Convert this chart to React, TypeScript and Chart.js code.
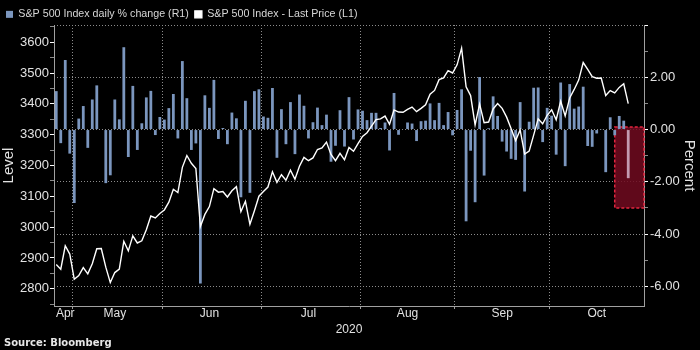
import React, { useEffect, useRef } from 'react';
import { Chart, registerables } from 'chart.js';

Chart.register(...registerables);

// ---------- data ----------
const YEAR = '2020';

const tradingDays = [
  '04-27', '04-28', '04-29', '04-30',
  '05-01', '05-04', '05-05', '05-06', '05-07', '05-08', '05-11', '05-12', '05-13', '05-14', '05-15',
  '05-18', '05-19', '05-20', '05-21', '05-22', '05-26', '05-27', '05-28', '05-29',
  '06-01', '06-02', '06-03', '06-04', '06-05', '06-08', '06-09', '06-10', '06-11', '06-12', '06-15',
  '06-16', '06-17', '06-18', '06-19', '06-22', '06-23', '06-24', '06-25', '06-26', '06-29', '06-30',
  '07-01', '07-02', '07-06', '07-07', '07-08', '07-09', '07-10', '07-13', '07-14', '07-15', '07-16',
  '07-17', '07-20', '07-21', '07-22', '07-23', '07-24', '07-27', '07-28', '07-29', '07-30', '07-31',
  '08-03', '08-04', '08-05', '08-06', '08-07', '08-10', '08-11', '08-12', '08-13', '08-14', '08-17',
  '08-18', '08-19', '08-20', '08-21', '08-24', '08-25', '08-26', '08-27', '08-28', '08-31',
  '09-01', '09-02', '09-03', '09-04', '09-08', '09-09', '09-10', '09-11', '09-14', '09-15', '09-16',
  '09-17', '09-18', '09-21', '09-22', '09-23', '09-24', '09-25', '09-28', '09-29', '09-30',
  '10-01', '10-02', '10-05', '10-06', '10-07', '10-08', '10-09', '10-12', '10-13', '10-14', '10-15',
  '10-16', '10-19', '10-20', '10-21', '10-22', '10-23', '10-26',
];

// empty days at the end of the time axis
const futureDays = ['10-27', '10-28', '10-29'];

// S&P 500 Index - Last Price (L1)
const lastPrice = [
  2878.48, 2863.39, 2939.51, 2912.43,
  2830.71, 2842.74, 2868.44, 2848.42, 2881.19, 2929.8, 2930.32, 2870.12, 2820.0, 2852.5, 2863.7,
  2953.91, 2922.94, 2971.61, 2948.51, 2955.45, 2991.77, 3036.13, 3029.73, 3044.31,
  3055.73, 3080.82, 3122.87, 3112.35, 3193.93, 3232.39, 3207.18, 3190.14, 3002.1, 3041.31, 3066.59,
  3124.74, 3113.49, 3115.34, 3097.74, 3117.86, 3131.29, 3050.33, 3083.76, 3009.05, 3053.24, 3100.29,
  3115.86, 3130.01, 3179.72, 3145.32, 3169.94, 3152.05, 3185.04, 3155.22, 3197.52, 3226.56, 3215.57,
  3224.73, 3251.84, 3257.3, 3276.02, 3235.66, 3215.63, 3239.41, 3218.44, 3258.44, 3246.22, 3271.12,
  3294.61, 3306.51, 3327.77, 3349.16, 3351.28, 3360.47, 3333.69, 3380.35, 3373.43, 3372.85, 3381.99,
  3389.78, 3374.85, 3385.51, 3397.16, 3431.28, 3443.62, 3478.73, 3484.55, 3508.01, 3500.31,
  3526.65, 3580.84, 3455.06, 3426.96, 3331.84, 3398.96, 3339.19, 3340.97, 3383.54, 3401.2, 3385.49,
  3357.01, 3319.47, 3281.06, 3315.57, 3236.92, 3246.59, 3298.46, 3351.6, 3335.47, 3363.0,
  3380.8, 3348.42, 3408.6, 3360.97, 3419.44, 3446.83, 3477.13, 3534.22, 3511.93, 3488.67, 3483.34,
  3483.81, 3426.92, 3443.12, 3435.56, 3453.49, 3465.39, 3400.97,
];

// S&P 500 Index daily % change (R1)
const dailyChange = [
  1.47, -0.52, 2.66, -0.92,
  -2.81, 0.42, 0.9, -0.7, 1.15, 1.69, 0.02, -2.05, -1.75, 1.15, 0.39,
  3.15, -1.05, 1.67, -0.78, 0.24, 1.23, 1.48, -0.21, 0.48,
  0.38, 0.82, 1.36, -0.34, 2.62, 1.2, -0.78, -0.53, -5.89, 1.31, 0.83,
  1.9, -0.36, 0.06, -0.56, 0.65, 0.43, -2.59, 1.1, -2.42, 1.47, 1.54,
  0.5, 0.45, 1.59, -1.08, 0.78, -0.56, 1.05, -0.94, 1.34, 0.91, -0.34,
  0.28, 0.84, 0.17, 0.57, -1.23, -0.62, 0.74, -0.65, 1.24, -0.38, 0.77,
  0.72, 0.36, 0.64, 0.64, 0.06, 0.27, -0.8, 1.4, -0.2, -0.02, 0.27,
  0.23, -0.44, 0.32, 0.34, 1.0, 0.36, 1.02, 0.17, 0.67, -0.22,
  0.75, 1.54, -3.51, -0.81, -2.78, 2.01, -1.76, 0.05, 1.27, 0.52, -0.46,
  -0.84, -1.12, -1.16, 1.05, -2.37, 0.3, 1.6, 1.61, -0.48, 0.83,
  0.53, -0.96, 1.8, -1.4, 1.74, 0.8, 0.88, 1.64, -0.63, -0.66, -0.15,
  0.01, -1.63, 0.47, -0.22, 0.52, 0.34, -1.86,
];

const monthNames = ['Jan', 'Feb', 'Mar', 'Apr', 'May', 'Jun', 'Jul', 'Aug', 'Sep', 'Oct', 'Nov', 'Dec'];

const seriesLabels = ['S&P 500 Index daily % change (R1)', 'S&P 500 Index - Last Price (L1)'];
const axisTitles = { left: 'Level', right: 'Percent' };
const sourceText = 'Source: Bloomberg';

// axis ranges
const levelMin = 2744;
const levelMax = 3656;
const levelStep = 50;
const levelLabelStep = 100;
const pctMin = -6.75;
const pctMax = 4;
const pctStep = 1;
const pctLabelStep = 2;

// highlighted region (annotation)
const highlightFromDay = '10-21';
const highlightTop = 0.1;
const highlightBottom = -3.0;

// ---------- styles ----------
const FONT = "'Liberation Sans', Arial, sans-serif";
const TEXT = '#e2e2e2';
const GRID = '#8c8c8c';
const AXIS = '#a0a0a0';
const BAR = '#7b96be';
const LAST_BAR = '#c39ab0';
const CLEAR = 'rgba(0,0,0,0)';

export default function App() {
  const ref = useRef<HTMLCanvasElement | null>(null);

  useEffect(() => {
    const canvas = ref.current;
    if (!canvas) return;

    const categories = [...tradingDays, ...futureDays];
    const monthOf = (d: string) => parseInt(d.slice(0, 2), 10);

    const monthStarts: number[] = [];
    const monthMid = new Map<number, string>();
    let spanStart = 0;
    for (let i = 1; i <= categories.length; i++) {
      if (i === categories.length || monthOf(categories[i]) !== monthOf(categories[i - 1])) {
        const last = i - 1;
        const mid = spanStart === 0 ? Math.ceil((spanStart + last) / 2) : Math.floor((spanStart + last) / 2);
        monthMid.set(mid, monthNames[monthOf(categories[spanStart]) - 1]);
        if (i < categories.length) monthStarts.push(i);
        spanStart = i;
      }
    }

    const lastIndex = dailyChange.length - 1;
    const highlightIndex = categories.indexOf(highlightFromDay);

    const highlightPlugin = {
      id: 'highlightBox',
      beforeDatasetsDraw(chart: any) {
        const { ctx, chartArea, scales } = chart;
        const left = scales.x.getPixelForValue(highlightIndex);
        const right = chartArea.right;
        const top = scales.y1.getPixelForValue(highlightTop);
        const bottom = scales.y1.getPixelForValue(highlightBottom);
        ctx.save();
        ctx.fillStyle = 'rgba(112, 10, 32, 0.86)';
        ctx.fillRect(left, top, right - left, bottom - top);
        ctx.setLineDash([3, 2]);
        ctx.strokeStyle = '#e3263f';
        ctx.lineWidth = 1.5;
        ctx.strokeRect(left, top, right - left, bottom - top);
        ctx.restore();
      },
    };

    const chart = new Chart(canvas, {
      type: 'bar',
      data: {
        labels: categories,
        datasets: [
          {
            type: 'bar',
            label: seriesLabels[0],
            data: dailyChange,
            yAxisID: 'y1',
            backgroundColor: (c: any) => (c.dataIndex === lastIndex ? LAST_BAR : BAR),
            borderWidth: 0,
            barPercentage: 0.62,
            categoryPercentage: 1,
            order: 2,
          } as any,
          {
            type: 'line',
            label: seriesLabels[1],
            data: lastPrice,
            yAxisID: 'y',
            borderColor: '#ffffff',
            backgroundColor: '#ffffff',
            borderWidth: 1.4,
            pointRadius: 0,
            tension: 0,
            fill: false,
            order: 1,
          } as any,
        ],
      },
      options: {
        responsive: false,
        animation: false,
        devicePixelRatio: 1,
        layout: { padding: { top: 3, left: 0, right: 0, bottom: 13 } },
        plugins: {
          legend: {
            display: true,
            position: 'top',
            align: 'start',
            maxHeight: 22,
            labels: {
              boxWidth: 7,
              boxHeight: 7,
              padding: 6,
              color: '#d6d6d6',
              font: { family: FONT, size: 10.7 },
              sort: (a: any, b: any) => a.datasetIndex - b.datasetIndex,
            },
          } as any,
          tooltip: { enabled: false },
        },
        scales: {
          x: {
            type: 'category',
            offset: true,
            grid: {
              offset: true,
              drawOnChartArea: true,
              color: (c: any) => (monthStarts.includes(c.index) ? GRID : CLEAR),
              tickColor: (c: any) => (monthStarts.includes(c.index) ? AXIS : CLEAR),
              tickLength: 3,
              lineWidth: 1,
            },
            border: { display: true, color: AXIS, width: 1, dash: [1, 2] },
            ticks: {
              autoSkip: false,
              maxRotation: 0,
              minRotation: 0,
              color: TEXT,
              font: { family: FONT, size: 12 },
              padding: -3,
              callback: (_v: any, i: number) => monthMid.get(i) ?? '',
            },
            title: {
              display: true,
              text: YEAR,
              color: TEXT,
              font: { family: FONT, size: 12 },
              padding: { top: 0, bottom: 0 },
            },
            afterFit: (s: any) => {
              s.height = 31;
            },
          } as any,
          y: {
            type: 'linear',
            position: 'left',
            min: levelMin,
            max: levelMax,
            grid: {
              drawOnChartArea: false,
              tickLength: 4,
              tickColor: (c: any) => (c.tick && c.tick.value % levelLabelStep === 0 ? '#ffffff' : '#8a8a8a'),
            },
            border: { display: true, color: AXIS, width: 1 },
            ticks: {
              stepSize: levelStep,
              autoSkip: false,
              includeBounds: false,
              color: TEXT,
              font: { family: FONT, size: 13 },
              padding: 1,
              callback: (v: any) => (Number(v) % levelLabelStep === 0 ? String(v) : ''),
            },
            title: {
              display: true,
              text: axisTitles.left,
              color: TEXT,
              font: { family: FONT, size: 15 },
              padding: { top: 0, bottom: 0 },
            },
            afterFit: (s: any) => {
              s.width = 54;
            },
          } as any,
          y1: {
            type: 'linear',
            position: 'right',
            min: pctMin,
            max: pctMax,
            grid: {
              drawOnChartArea: true,
              color: (c: any) => (c.tick && c.tick.value % pctLabelStep === 0 ? GRID : CLEAR),
              tickLength: 4,
              tickColor: (c: any) => (c.tick && c.tick.value % pctLabelStep === 0 ? '#ffffff' : '#8a8a8a'),
            },
            border: { display: true, color: AXIS, width: 1, dash: [1, 2] },
            ticks: {
              stepSize: pctStep,
              autoSkip: false,
              includeBounds: false,
              color: TEXT,
              font: { family: FONT, size: 13 },
              padding: 2,
              callback: (v: any) => {
                const n = Number(v);
                return n % pctLabelStep === 0 && n !== pctMax ? n.toFixed(2) : '';
              },
            },
            title: {
              display: true,
              text: axisTitles.right,
              color: TEXT,
              font: { family: FONT, size: 15 },
              padding: { top: 2, bottom: 0 },
            },
            afterFit: (s: any) => {
              s.width = 56;
            },
          } as any,
        },
      },
      plugins: [highlightPlugin],
    });

    return () => {
      chart.destroy();
    };
  }, []);

  return (
    <div
      style={{
        position: 'fixed',
        left: 0,
        top: 0,
        width: 700,
        height: 350,
        background: '#000',
        overflow: 'hidden',
      }}
    >
      <canvas ref={ref} width={700} height={350} style={{ display: 'block', width: 700, height: 350 }} />
      <div
        style={{
          position: 'absolute',
          left: 4,
          top: 337,
          font: "bold 10px 'DejaVu Sans', sans-serif",
          lineHeight: '12px',
          color: '#e6e6e6',
          whiteSpace: 'nowrap',
        }}
      >
        {sourceText}
      </div>
    </div>
  );
}
